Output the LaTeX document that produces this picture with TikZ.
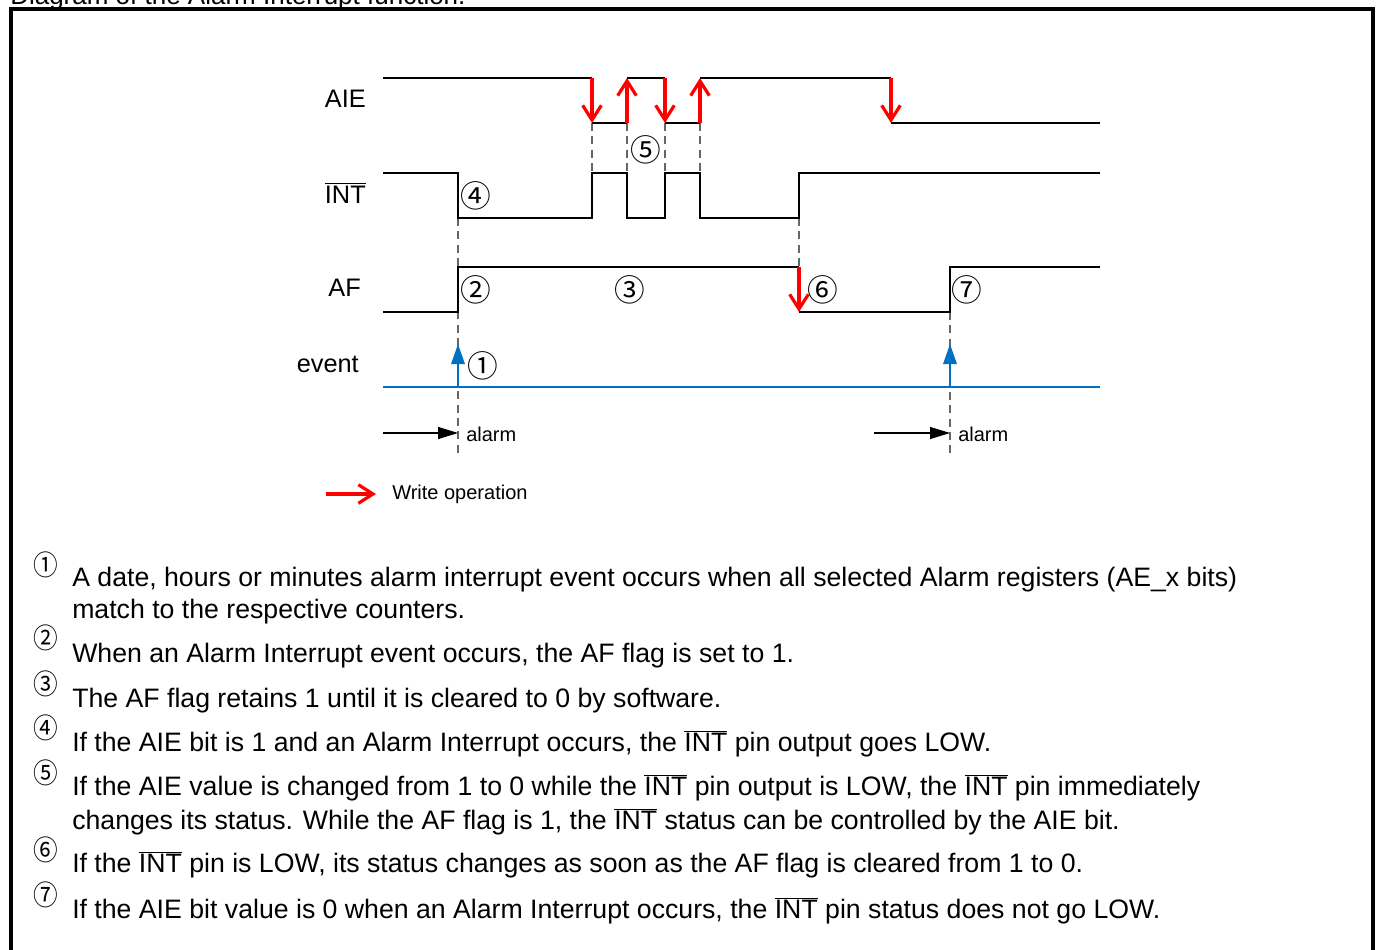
\documentclass[tikz,border=0pt]{standalone}
\usepackage{fontspec}
\setmainfont{Liberation Sans}
\newfontfamily\circfont{Noto Sans CJK JP}
\usepackage{xcolor}
\usetikzlibrary{arrows.meta}
\definecolor{evblue}{RGB}{0,112,192}
\newcommand{\ovl}[1]{$\overline{\mbox{#1}}$}

\begin{document}
\begin{tikzpicture}[x=0.75pt, y=-0.75pt,
    wave/.style={line width=1.6pt},
    guide/.style={gray!80!black, line width=0.9pt, dash pattern=on 6pt off 4pt},
    wr/.style={red, line width=2.4pt, -{Straight Barb[length=11pt,width=14pt]}},
    evarr/.style={evblue, line width=1.6pt, -{Triangle[length=15pt,width=10pt]}},
    almarr/.style={line width=0.8pt, -{Triangle[length=15pt,width=9pt]}},
    sig/.style={font=\fontsize{19}{22}\selectfont, inner sep=0pt},
    small/.style={font=\fontsize{15}{18}\selectfont, inner sep=0pt},
    cn/.style={font=\circfont\fontsize{23}{26}\selectfont, inner sep=0pt},
    cnl/.style={font=\circfont\fontsize{21}{24}\selectfont, inner sep=0pt, xscale=0.88},
    note/.style={font=\fontsize{20}{24}\selectfont, anchor=base west, align=left, inner sep=0pt}]
    \useasboundingbox (0,0) rectangle (1376,949);
    \node[anchor=base west, font=\fontsize{19.5}{22}\selectfont, inner sep=0pt] (title) at (10,5) {Diagram of the Alarm Interrupt function.};
    \draw[line width=3pt] (11,960) |- (1372.5,9) -- (1372.5,960);

    \node[sig, anchor=base east] (aie) at (366,108) {AIE};
    \node[sig, anchor=base east] (int) at (366,203) {\ovl{INT}};
    \node[sig, anchor=base east] (af) at (361,296) {AF};
    \node[sig, anchor=base east] (event) at (359,372) {event};

    \draw[guide] (458,218) -- (458,456);
    \draw[guide] (950,312) -- (950,456);
    \draw[guide] (799,218) -- (799,267);
    \foreach \t in {592,627,665,700}
      \draw[guide] (\t,123) -- (\t,173);

    \draw[wave] (383,78) -- (592,78) (592,123) -- (627,123) (627,78) -- (665,78)
      (665,123) -- (700,123) (700,78) -- (891,78) (891,123) -- (1100,123);
    \draw[wave] (383,173) -- (458,173) -- (458,218) -- (592,218) -- (592,173) -- (627,173)
      -- (627,218) -- (665,218) -- (665,173) -- (700,173) -- (700,218) -- (799,218)
      -- (799,173) -- (1100,173);
    \draw[wave] (383,312) -- (458,312) -- (458,267) -- (799,267)
      (799,312) -- (950,312) -- (950,267) -- (1100,267);
    \draw[evblue, line width=1.6pt] (383,387) -- (1100,387);

    \foreach \t/\a/\b in {592/78/123, 627/123/78, 665/78/123, 700/123/78, 891/78/123, 799/267/312}
      \draw[wr] (\t,\a) -- (\t,\b);
    \draw[evarr] (458,387) -- (458,344);
    \draw[evarr] (950,387) -- (950,344);

    \node[cn] (c4) at (476,196) {④};
    \node[cn] (c5) at (646,150) {⑤};
    \node[cn] (c2) at (476,290) {②};
    \node[cn] (c3) at (630,290) {③};
    \node[cn] (c6) at (823,290) {⑥};
    \node[cn] (c7) at (967,290) {⑦};
    \node[cn] (c1) at (483,366) {①};

    \draw[almarr] (383,433) -- (458,433);
    \node[small, anchor=base west] (alarm1) at (466,441) {alarm};
    \draw[almarr] (874,433) -- (950,433);
    \node[small, anchor=base west] (alarm2) at (958,441) {alarm};

    \draw[wr] (326,494) -- (376,494);
    \node[small, anchor=base west] (wrop) at (392,499) {Write operation};

    \node[cnl] (n1) at (46,565) {①};
    \node[note] (t1) at (72,618) {A date, hours or minutes alarm interrupt event occurs when all selected Alarm registers (AE\_x bits)\\match to the respective counters.};
    \node[cnl] (n2) at (46,638) {②};
    \node[note] (t2) at (72,662) {When an Alarm Interrupt event occurs, the AF flag is set to 1.};
    \node[cnl] (n3) at (46,684) {③};
    \node[note] (t3) at (72,707) {The AF flag retains 1 until it is cleared to 0 by software.};
    \node[cnl] (n4) at (46,728) {④};
    \node[note] (t4) at (72,751) {If the AIE bit is 1 and an Alarm Interrupt occurs, the \ovl{INT} pin output goes LOW.};
    \node[cnl] (n5) at (46,773) {⑤};
    \node[note, font=\fontsize{20}{25.5}\selectfont] (t5) at (72,829) {If the AIE value is changed from 1 to 0 while the \ovl{INT} pin output is LOW, the \ovl{INT} pin immediately\\changes its status. While the AF flag is 1, the \ovl{INT} status can be controlled by the AIE bit.};
    \node[cnl] (n6) at (46,850) {⑥};
    \node[note] (t6) at (72,872) {If the \ovl{INT} pin is LOW, its status changes as soon as the AF flag is cleared from 1 to 0.};
    \node[cnl] (n7) at (46,895) {⑦};
    \node[note] (t7) at (72,918) {If the AIE bit value is 0 when an Alarm Interrupt occurs, the \ovl{INT} pin status does not go LOW.};
  \end{tikzpicture}
\end{document}
